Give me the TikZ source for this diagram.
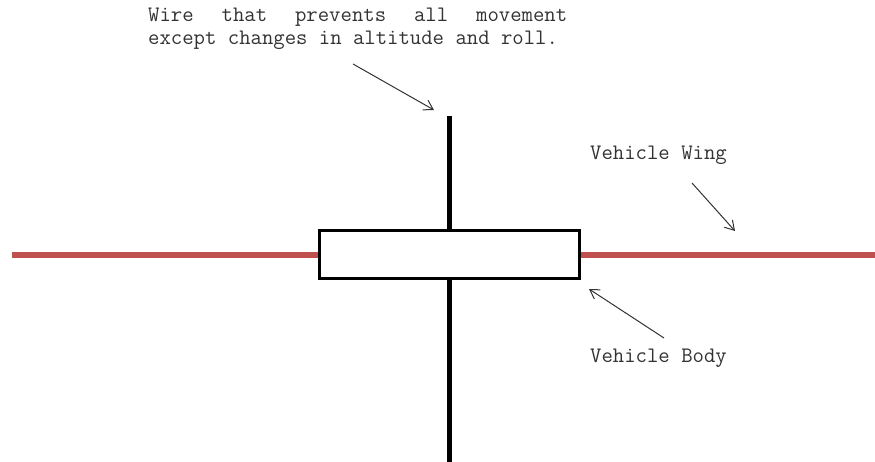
\documentclass[tikz,border=0pt]{standalone}
\usepackage{fontspec}
\usetikzlibrary{arrows.meta}
\definecolor{wingred}{HTML}{C0504D}
\definecolor{txtgray}{HTML}{333333}
\tikzset{
  label text/.style={font=\ttfamily\fontsize{22.1}{23}\selectfont, text=txtgray, inner sep=0pt, anchor=base west},
  pointer/.style={draw=txtgray, line width=1pt, -{Straight Barb[length=9pt,width=11pt,line width=1pt]}},
  wingline/.style={draw=wingred, line width=6pt},
  wireline/.style={draw=black, line width=5pt},
  bodybox/.style={draw=black, fill=white, line width=3pt, minimum width=260pt, minimum height=48pt, inner sep=0pt}
}
\begin{document}
\begin{tikzpicture}[x=1pt,y=-1pt]
\useasboundingbox (0,0) rectangle (875,462);
% wing
\coordinate (wingL) at (12,255);
\coordinate (wingR) at (875,255);
\draw[wingline] (wingL) -- (wingR);
% wire
\coordinate (wireT) at (449,116);
\coordinate (wireB) at (449,462);
\draw[wireline] (wireT) -- (wireB);
% body
\node[bodybox] (body) at (449,255) {};
% texts
\node[label text] (note1) at (148,22) {\makebox[419pt][s]{Wire\hfill that\hfill prevents\hfill all\hfill movement}};
\node[label text] (note2) at (148,45) {except changes in altitude and roll.};
\node[label text] (wingtxt) at (590,160) {Vehicle Wing};
\node[label text] (bodytxt) at (590,362) {Vehicle Body};
% arrows
\coordinate (a1s) at (353,64);
\coordinate (a1e) at (434,110);
\draw[pointer] (a1s) -- (a1e);
\coordinate (a2s) at (692,183);
\coordinate (a2e) at (735,231);
\draw[pointer] (a2s) -- (a2e);
\coordinate (a3s) at (664,338);
\coordinate (a3e) at (589,289);
\draw[pointer] (a3s) -- (a3e);
\end{tikzpicture}
\end{document}
